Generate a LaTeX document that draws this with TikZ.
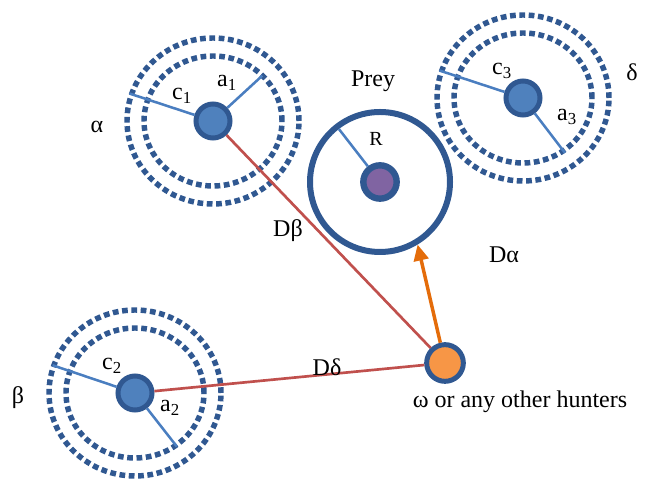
\documentclass[tikz,border=0pt]{standalone}
\usepackage{fontspec}
\setmainfont{Liberation Serif}
\usepackage{xcolor}
\usetikzlibrary{arrows.meta,positioning,calc}

\definecolor{ringblue}{RGB}{48,88,145}
\definecolor{bodyblue}{RGB}{79,129,189}
\definecolor{lineblue}{RGB}{74,126,192}
\definecolor{trailred}{RGB}{192,80,77}
\definecolor{chaseorange}{RGB}{228,108,10}
\definecolor{omegaorange}{RGB}{247,150,70}
\definecolor{preypurple}{RGB}{128,100,162}

\begin{document}
\begin{tikzpicture}[x=0.75pt, y=0.75pt,
		hunter/.style = {circle, draw=ringblue, line width=3.75pt, fill=bodyblue,
				minimum size=25.5pt, inner sep=0pt},
		core/.style = {circle, draw=ringblue, line width=4.8pt, fill=preypurple,
				minimum size=25pt, inner sep=0pt},
		other/.style = {circle, draw=ringblue, line width=3.75pt, fill=omegaorange,
				minimum size=27.5pt, inner sep=0pt},
		preyring/.style = {circle, draw=ringblue, line width=4.5pt,
				minimum size=105pt, inner sep=0pt},
		ring/.style = {draw=ringblue, line width=4.1pt, dash pattern=on 4.3pt off 2.7pt},
		radline/.style = {draw=lineblue, line width=1.9pt},
		trail/.style = {draw=trailred, line width=2pt},
		chase/.style = {draw=chaseorange, line width=2.6pt,
				-{Triangle[length=12pt, width=11pt]}},
		lbl/.style = {font=\fontsize{18}{21}\selectfont, inner sep=1pt}
	]
	\useasboundingbox (0,0) rectangle (646,484);

	% dashed search rings
	\foreach \c in {(213,363), (135,91), (523,386)} {
		\draw[ring] \c circle[x radius=86, y radius=83];
		\draw[ring] \c circle[x radius=69, y radius=65];
	}

	% hunters
	\node[hunter] (A) at (213,363) {};
	\node[hunter] (B) at (135,91) {};
	\node[hunter] (D) at (523,386) {};
	\coordinate (Ac) at ($(A)+(161.8:88)$);
	\coordinate (Aa) at ($(A)+(42.6:67)$);
	\coordinate (Bc) at ($(B)+(161.4:87)$);
	\coordinate (Ba) at ($(B)+(-52:68)$);
	\coordinate (Dc) at ($(D)+(161.8:88)$);
	\coordinate (Da) at ($(D)+(-52.6:69)$);
	\draw[radline] (A) -- (Ac); \draw[radline] (A) -- (Aa);
	\draw[radline] (B) -- (Bc); \draw[radline] (B) -- (Ba);
	\draw[radline] (D) -- (Dc); \draw[radline] (D) -- (Da);

	% prey
	\node[preyring] (P) at (380,302) {};
	\node[core] (Pc) at (380,302) {};
	\coordinate (Pr) at ($(Pc)+(127.8:67)$);
	\draw[radline] (Pc) -- (Pr);

	% omega
	\node[other] (W) at (445,121) {};
	\draw[trail] (A) -- (W);
	\draw[trail] (B) -- (W);
	\draw[chase] (W) -- (P.-59);

	% labels
	\node[lbl] (la) at (97,357) {α};
	\node[lbl] (lb) at (18,86) {β};
	\node[lbl] (ld) at (632,412) {δ};
	\node[lbl] (c1) at (182,388) {c\textsubscript{1}};
	\node[lbl] (a1) at (227,401) {a\textsubscript{1}};
	\node[lbl] (c2) at (112,118) {c\textsubscript{2}};
	\node[lbl] (a2) at (170,76) {a\textsubscript{2}};
	\node[lbl] (c3) at (502,413) {c\textsubscript{3}};
	\node[lbl] (a3) at (567,367) {a\textsubscript{3}};
	\node[lbl] (lp) at (373,403) {Prey};
	\node[lbl, font=\fontsize{15}{17}\selectfont] (lr) at (376,345) {R};
	\node[lbl] (Db) at (288,253) {Dβ};
	\node[lbl] (Dal) at (504,229) {Dα};
	\node[lbl] (Dd) at (327,117) {Dδ};
	\node[lbl] (lw) at (520,82) {ω or any other hunters};
\end{tikzpicture}
\end{document}
